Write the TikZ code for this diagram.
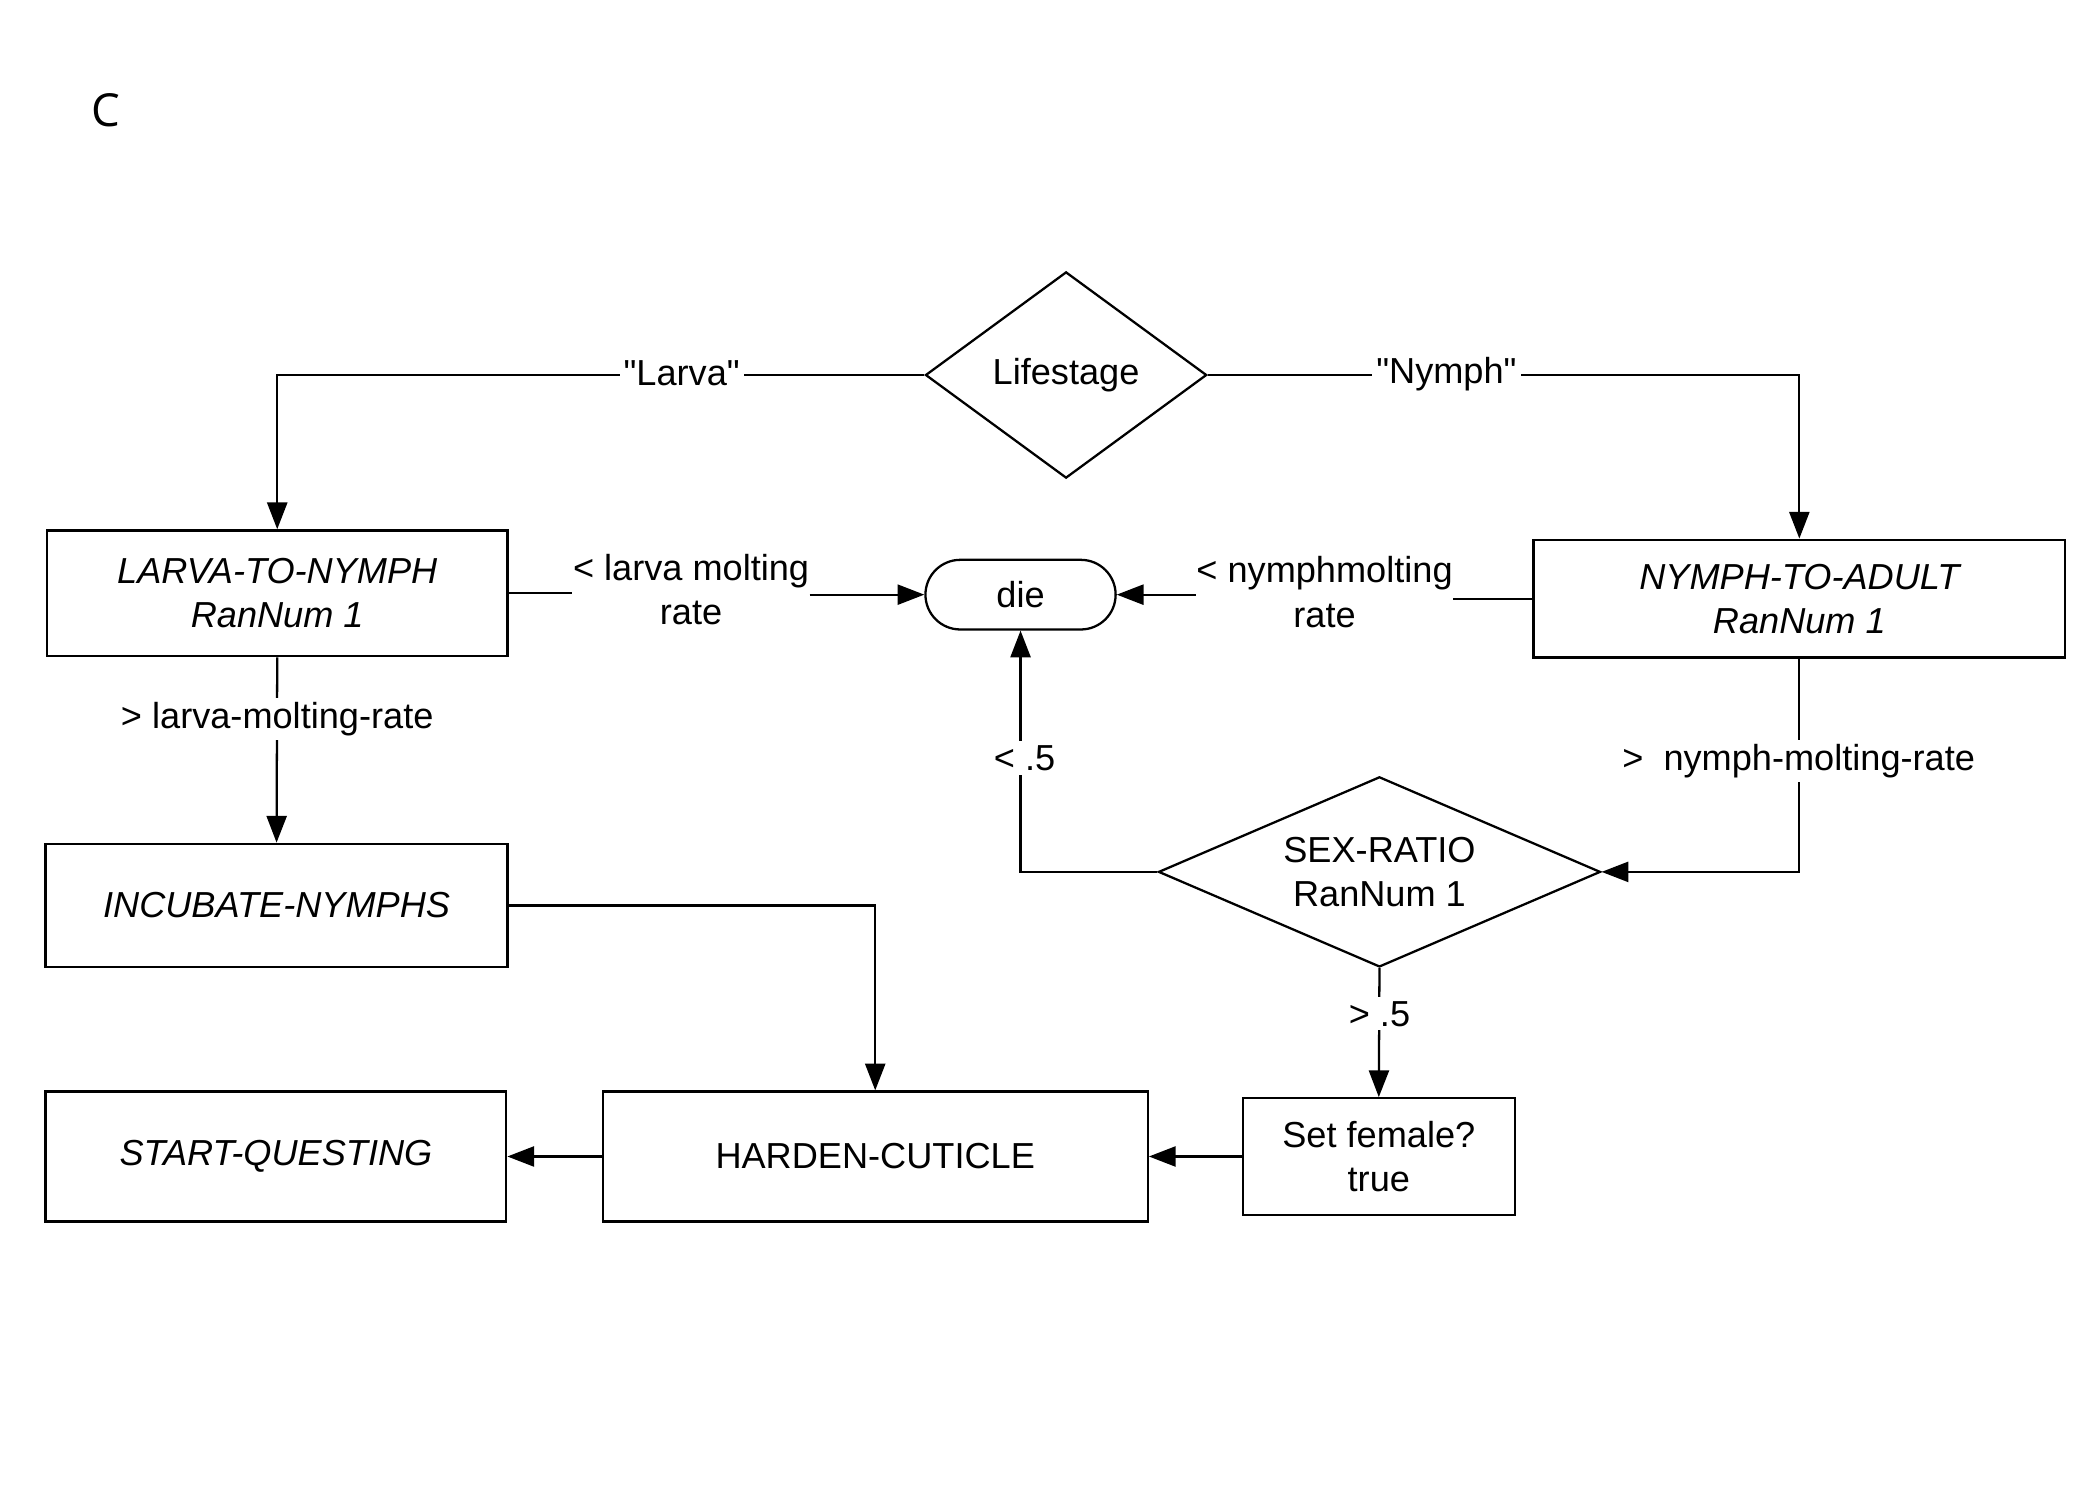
\documentclass[tikz,border=0pt]{standalone}
\usepackage{fontspec}
\setmainfont{Liberation Sans}[Ligatures=TeXOff]
\newfontfamily\panelfont{Open Sans}
\usetikzlibrary{shapes.geometric,arrows.meta}
\begin{document}
\begin{tikzpicture}[x=0.5pt,y=-0.5pt,
  every node/.style={font=\fontsize{13.5}{16.5}\selectfont},
  line/.style={line width=0.85pt},
  arr/.style={line, -{Triangle[length=10pt,width=7.5pt]}},
  box/.style={draw, line width=0.85pt, rectangle, inner sep=0pt, align=center},
  dia/.style={draw, line width=0.85pt, diamond, inner sep=0pt, align=center},
  term/.style={draw, line width=0.85pt, rectangle, rounded corners=13pt, inner sep=0pt},
  lab/.style={fill=white, inner sep=1.5pt, align=center},
  gap/.style={inner sep=0pt, align=center}]
\useasboundingbox (0,0) rectangle (1568,1120);

\node[font=\panelfont\fontsize{17}{20}\selectfont] (panel) at (79,82) {C};

% process boxes and decisions
\node[dia, aspect=1.36, minimum width=105pt, minimum height=77pt] (life) at (796,280) {Lifestage};
\node[box, minimum width=172pt, minimum height=47pt] (ltn) at (207,443)
  {\itshape LARVA-TO-NYMPH\\\itshape RanNum 1};
\node[term, minimum width=71pt, minimum height=26pt] (die) at (762,444) {die};
\node[box, minimum width=198.5pt, minimum height=44pt] (nta) at (1343.5,447)
  {\itshape NYMPH-TO-ADULT\\\itshape RanNum 1};
\node[box, minimum width=172.5pt, minimum height=46pt] (inc) at (206.5,676)
  {\itshape INCUBATE-NYMPHS};
\node[dia, aspect=2.32, minimum width=165pt, minimum height=71pt] (sex) at (1030,651)
  {SEX-RATIO\\RanNum 1};
\node[box, minimum width=172pt, minimum height=48.5pt] (start) at (206,863.5)
  {\itshape START-QUESTING};
\node[box, minimum width=203.5pt, minimum height=48.5pt] (hard) at (653.5,863.5)
  {HARDEN-CUTICLE};
\node[box, minimum width=101.5pt, minimum height=43.5pt] (fem) at (1029.5,863.5)
  {Set female?\\true};

% labels that interrupt horizontal connectors
\node[gap] (lblL) at (516,440) {< larva molting\\rate};
\node[gap] (lblN) at (989,442) {< nymphmolting\\rate};

% connectors
\draw[arr] (life.west) -- (ltn.north |- life.west) -- (ltn.north);
\draw[arr] (life.east) -- (nta.north |- life.east) -- (nta.north);
\draw[line] (ltn.east) -- (lblL.west |- ltn.east);
\draw[arr] (lblL.east |- die.west) -- (die.west);
\draw[line] (nta.west) -- (lblN.east |- nta.west);
\draw[arr] (lblN.west |- die.east) -- (die.east);
\draw[arr] (ltn.south) -- (inc.north);
\draw[arr] (inc.east) -- (hard.north |- inc.east) -- (hard.north);
\draw[arr] (nta.south) -- (nta.south |- sex.east) -- (sex.east);
\draw[arr] (sex.west) -- (die.south |- sex.west) -- (die.south);
\draw[arr] (sex.south) -- (fem.north);
\draw[arr] (fem.west) -- (hard.east);
\draw[arr] (hard.west) -- (start.east);

% labels sitting on connectors
\node[lab] (lLarva) at (509,279) {"Larva"};
\node[lab] (lNymph) at (1080,279) {"Nymph"};
\node[lab] (lLmr) at (207,537) {> larva-molting-rate};
\node[lab] (lNmr) at (1343,568) {>\ \ nymph-molting-rate};
\node[lab] (lLow) at (765,566) {< .5};
\node[lab] (lHigh) at (1030,757) {> .5};
\end{tikzpicture}
\end{document}
